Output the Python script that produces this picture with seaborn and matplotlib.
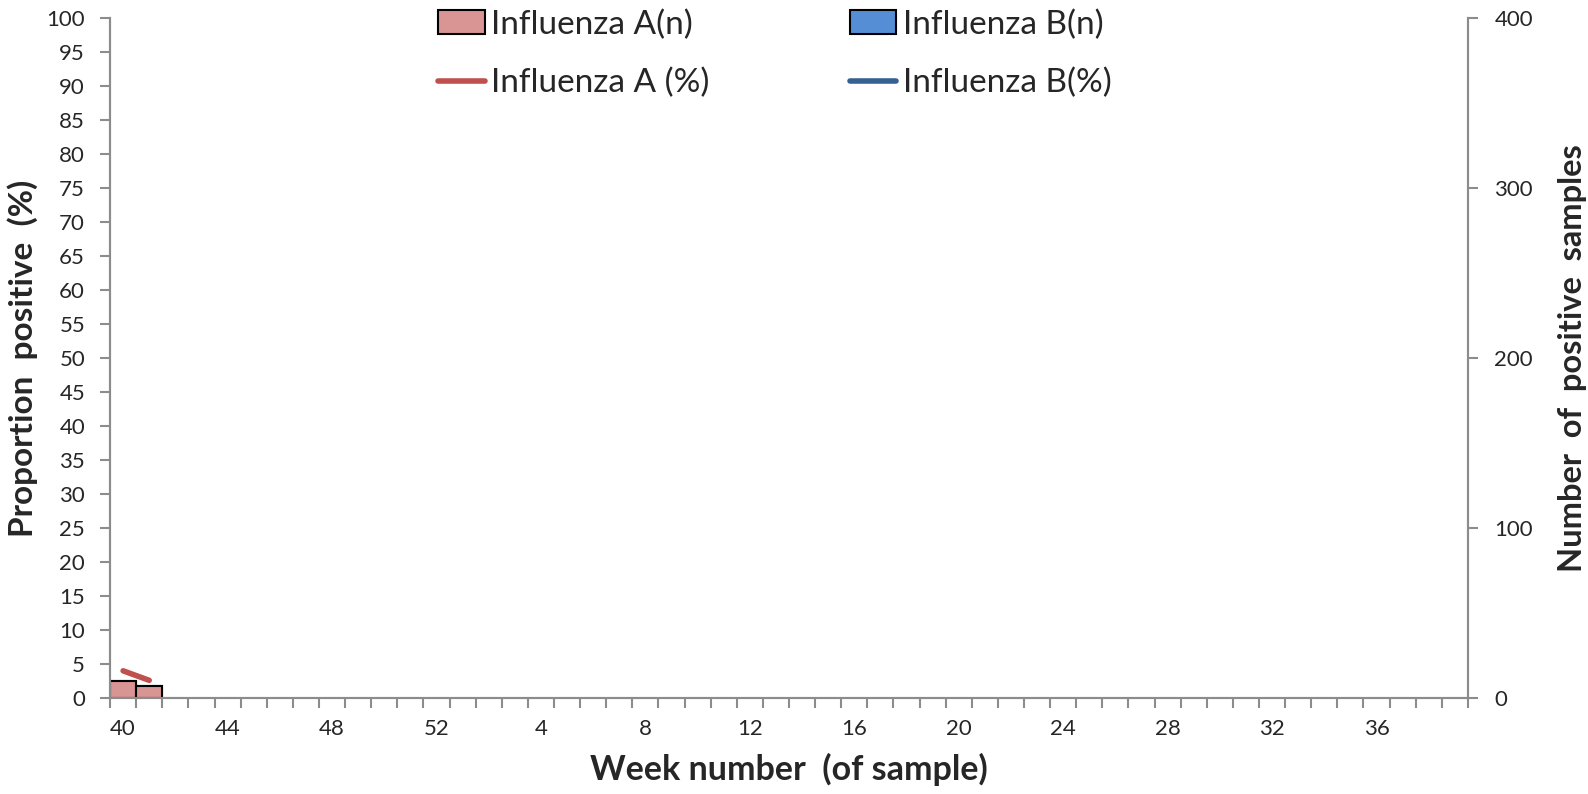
import matplotlib
matplotlib.use("Agg")
import matplotlib.pyplot as plt
import seaborn as sns
import numpy as np
import pandas as pd
from matplotlib.patches import Patch
from matplotlib.lines import Line2D

# ---- data ----
weeks = list(range(40, 53)) + list(range(1, 40))
flu_a_n = [10, 7] + [np.nan] * 50
flu_b_n = [0, 0] + [np.nan] * 50
flu_a_pct = [4.0, 2.6] + [np.nan] * 50
flu_b_pct = [np.nan] * 52
left_ticks = list(range(0, 101, 5))
right_ticks = [0, 100, 200, 300, 400]

sns.set_theme(style="white")
plt.rcParams['font.family'] = ['Lato', 'DejaVu Sans']

col_a_bar = "#D99594"
col_b_bar = "#558ED5"
col_a_line = "#C0504D"
col_b_line = "#366092"
spine_col = "#8C8C8C"

pos = list(range(len(weeks)))
df = pd.DataFrame({
    "pos": pos,
    "week": [str(w) for w in weeks],
    "a_n": flu_a_n,
    "b_n": flu_b_n,
    "total": [a + b if not (np.isnan(a) or np.isnan(b)) else np.nan for a, b in zip(flu_a_n, flu_b_n)],
    "a_pct": flu_a_pct,
    "b_pct": flu_b_pct,
})

fig = plt.figure(figsize=(15.88, 7.94), dpi=100)
ax = fig.add_axes([0.0693, 0.1209, 0.8551, 0.8564])
ax2 = ax.twinx()

# bars on right axis (stacked: B on top of A)
sns.barplot(data=df, x="pos", y="total", ax=ax2, color=col_b_bar, width=1.0,
            edgecolor="black", linewidth=1.5, saturation=1, errorbar=None,
            order=pos)
sns.barplot(data=df, x="pos", y="a_n", ax=ax2, color=col_a_bar, width=1.0,
            edgecolor="black", linewidth=1.5, saturation=1, errorbar=None,
            order=pos)

# lines on left axis
sns.lineplot(data=df, x="pos", y="a_pct", ax=ax, color=col_a_line, linewidth=4,
             solid_capstyle="round")
if df["b_pct"].notna().any():
    sns.lineplot(data=df, x="pos", y="b_pct", ax=ax, color=col_b_line, linewidth=4,
                 solid_capstyle="round")

ax.set_zorder(ax2.get_zorder() + 1)
ax.patch.set_visible(False)

for a in (ax, ax2):
    a.set_xlim(-0.5, len(weeks) - 0.5)
    for s in a.spines.values():
        s.set_color(spine_col)
        s.set_linewidth(1.5)
    a.spines["top"].set_visible(False)

ax.set_ylim(0, 100)
ax2.set_ylim(0, 400)
ax.set_yticks(left_ticks)
ax.set_yticklabels([str(t) for t in left_ticks], fontsize=16)
ax2.set_yticks(right_ticks)
ax2.set_yticklabels([str(t) for t in right_ticks], fontsize=16)

ax.set_xticks(pos[::4])
ax.set_xticklabels([str(w) for w in weeks[::4]], fontsize=16)
ax.set_xticks(np.arange(-0.5, len(weeks), 1.0), minor=True)
ax.tick_params(axis="x", which="major", length=0, pad=15)
ax.tick_params(axis="x", which="minor", length=7, width=1.5, color=spine_col, bottom=True)
ax.tick_params(axis="y", which="major", left=True, length=7, width=1.5, color=spine_col, pad=11)
ax2.tick_params(axis="y", which="major", right=True, length=7, width=1.5, color=spine_col, pad=12)
ax2.tick_params(axis="x", which="both", bottom=False, labelbottom=False)
ax2.set_xlabel("")

ax.set_xlabel("Week number  (of sample)", fontsize=24.5, fontweight="bold", labelpad=10)
ax.set_ylabel("Proportion  positive  (%)", fontsize=24, fontweight="bold", labelpad=6)
ax2.set_ylabel("Number  of  positive  samples", fontsize=23.5, fontweight="bold", labelpad=18)

handles = [
    Patch(facecolor=col_a_bar, edgecolor="black", linewidth=1.5),
    Line2D([0], [0], color=col_a_line, linewidth=4),
    Patch(facecolor=col_b_bar, edgecolor="black", linewidth=1.5),
    Line2D([0], [0], color=col_b_line, linewidth=4),
]
labels = ["Influenza A(n)", "Influenza A (%)", "Influenza B(n)", "Influenza B(%)"]
fig.legend(handles, labels, ncol=2, loc="upper center", bbox_to_anchor=(0.488, 1.026),
           frameon=False, fontsize=24, handlelength=1.4, handletextpad=0.2,
           columnspacing=4.2, labelspacing=0.85)

fig.savefig("out.png", dpi=100)
